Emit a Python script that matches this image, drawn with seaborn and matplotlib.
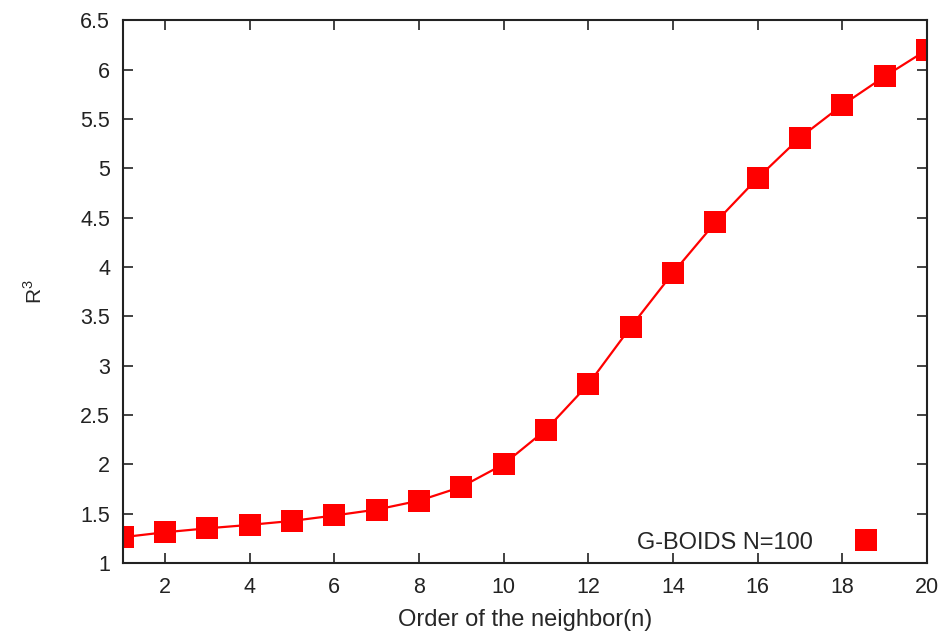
import matplotlib
matplotlib.use("Agg")
import matplotlib.pyplot as plt
from matplotlib.lines import Line2D
import seaborn as sns
import pandas as pd

order = list(range(1, 21))
r3 = [1.26, 1.31, 1.35, 1.385, 1.425, 1.48, 1.54, 1.63, 1.77, 2.00,
      2.35, 2.81, 3.39, 3.94, 4.45, 4.90, 5.31, 5.64, 5.93, 6.20]
series_label = "G-BOIDS N=100"
xticks = [2, 4, 6, 8, 10, 12, 14, 16, 18, 20]
yticks = [1, 1.5, 2, 2.5, 3, 3.5, 4, 4.5, 5, 5.5, 6, 6.5]
ytick_labels = ["1", "1.5", "2", "2.5", "3", "3.5", "4", "4.5", "5", "5.5", "6", "6.5"]

sns.set_style("ticks")
plt.rcParams['font.family'] = ['Liberation Sans', 'DejaVu Sans']
plt.rcParams['mathtext.fontset'] = 'custom'
plt.rcParams['mathtext.rm'] = 'Liberation Sans'

df = pd.DataFrame({"n": order, "r3": r3})
fig, ax = plt.subplots(figsize=(9.44, 6.31), dpi=100)
fig.subplots_adjust(left=0.13, right=0.982, top=0.968, bottom=0.108)

sns.lineplot(data=df, x="n", y="r3", ax=ax, color="#ff0000", linewidth=1.6,
             marker="s", markersize=16, markeredgewidth=0, legend=False)

ax.set_xlim(1, 20)
ax.set_ylim(1, 6.5)
ax.set_xticks(xticks)
ax.set_yticks(yticks)
ax.set_yticklabels(ytick_labels)
ax.tick_params(direction="in", length=7, width=1.2, top=True, right=True, labelsize=15.5, colors="#222222")
ax.tick_params(axis="x", pad=10)
ax.tick_params(axis="y", pad=9)
for s in ax.spines.values():
    s.set_linewidth(1.5)
    s.set_color("#222222")
ax.set_xlabel("Order of the neighbor(n)", fontsize=17, labelpad=8)
ax.set_ylabel(r"R$^{\mathrm{3}}$", fontsize=15, labelpad=25)
handle = Line2D([], [], linestyle="none", marker="s", markersize=16, markeredgewidth=0, color="#ff0000")
ax.legend([handle], [series_label], loc="lower right", frameon=False, markerfirst=False, fontsize=17,
          handlelength=2.5, handletextpad=1.0, bbox_to_anchor=(0.987, -0.022))
fig.savefig("out.png", dpi=100)
